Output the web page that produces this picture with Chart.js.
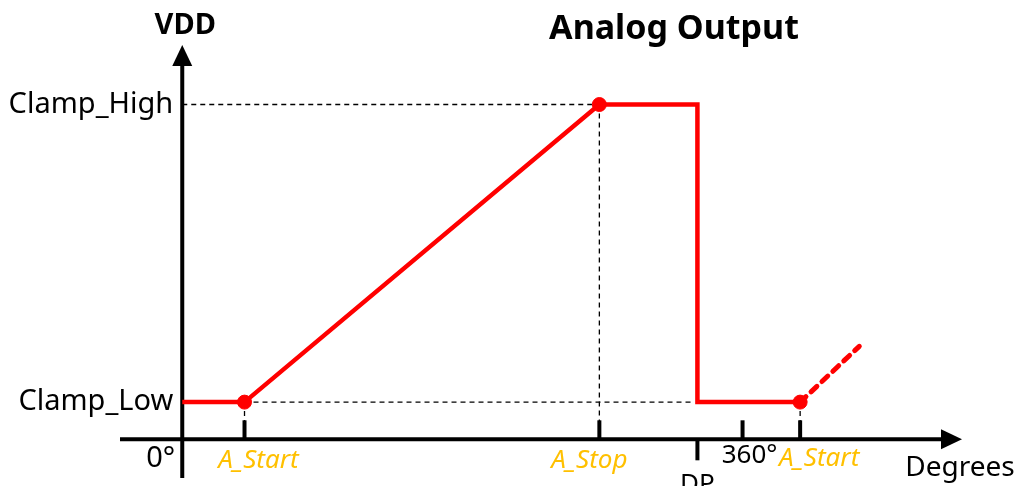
<!DOCTYPE html>
<html>
<head>
<meta charset="utf-8">
<script src="https://cdn.jsdelivr.net/npm/chart.js@4"></script>
<style>
  html, body { margin: 0; padding: 0; background: #fff; }
  canvas { display: block; }
</style>
</head>
<body>
<canvas id="chart" width="1022" height="486"></canvas>
<script>
// values (x in degrees, y in volts-ish units)
const clampLow = 0.5;
const clampHigh = 4.5;
const outputX = [0, 40, 268, 331, 331, 397];
const outputY = [clampLow, clampLow, clampHigh, clampHigh, clampLow, clampLow];
const nextX = [397, 435];
const nextY = [clampLow, 1.25];
const markerX = [40, 268, 397];
const markerY = [clampLow, clampHigh, clampLow];

const xTicks = [40, 268, 331, 360, 397];
const xTickLabels = ["A_Start", "A_Stop", "DP", "360°", "A_Start"];
const yTicks = [clampLow, clampHigh];
const yTickLabels = ["Clamp_Low", "Clamp_High"];

const FONT = "'Noto Sans', 'Open Sans', sans-serif";
const RED = "#ff0000";
const ORANGE = "#ffc000";

// how each x tick is drawn: above/below the axis, label colour and offset
const xTickStyle = [
  { up: true, color: ORANGE, italic: true, dx: 14, y: 461 },
  { up: true, color: ORANGE, italic: true, dx: -10, y: 461 },
  { up: false, color: "#000", italic: false, dx: 0, y: 485 },
  { up: true, color: "#000", italic: false, dx: 7, y: 456 },
  { up: true, color: ORANGE, italic: true, dx: 19, y: 459 }
];

function pts(xs, ys) {
  return xs.map((x, i) => ({ x: x, y: ys[i] }));
}

function guide(data) {
  return {
    data: data,
    showLine: true,
    borderColor: "#000",
    borderWidth: 1.3,
    borderDash: [5, 4],
    pointRadius: 0,
    order: 5
  };
}

const axesPlugin = {
  id: "axes",
  beforeDatasetsDraw(chart) {
    const ctx = chart.ctx;
    const x = chart.scales.x;
    const y = chart.scales.y;
    const area = chart.chartArea;
    const x0 = x.getPixelForValue(0);
    const y0 = y.getPixelForValue(0);

    ctx.save();
    ctx.strokeStyle = "#000";
    ctx.fillStyle = "#000";
    ctx.lineWidth = 4;

    // y axis with arrow
    ctx.beginPath();
    ctx.moveTo(x0, area.bottom);
    ctx.lineTo(x0, area.top + 16);
    ctx.stroke();
    ctx.beginPath();
    ctx.moveTo(x0, area.top);
    ctx.lineTo(x0 - 10, area.top + 21);
    ctx.lineTo(x0 + 10, area.top + 21);
    ctx.closePath();
    ctx.fill();

    // x axis with arrow
    ctx.beginPath();
    ctx.moveTo(area.left, y0);
    ctx.lineTo(area.right - 16, y0);
    ctx.stroke();
    ctx.beginPath();
    ctx.moveTo(area.right, y0);
    ctx.lineTo(area.right - 21, y0 - 10);
    ctx.lineTo(area.right - 21, y0 + 10);
    ctx.closePath();
    ctx.fill();

    // x ticks and labels
    xTicks.forEach((v, i) => {
      const s = xTickStyle[i];
      const px = x.getPixelForValue(v);
      ctx.lineWidth = 4;
      ctx.beginPath();
      if (s.up) {
        ctx.moveTo(px, y0 - 19);
        ctx.lineTo(px, y0);
      } else {
        ctx.moveTo(px, y0);
        ctx.lineTo(px, y0 + 21);
      }
      ctx.stroke();
      ctx.font = (s.italic ? "italic " : "") + "26px " + FONT;
      ctx.fillStyle = s.color;
      ctx.textAlign = "center";
      ctx.textBaseline = "middle";
      ctx.fillText(xTickLabels[i], px + s.dx, s.y);
    });

    // y tick labels
    ctx.fillStyle = "#000";
    ctx.font = "29px " + FONT;
    ctx.textAlign = "right";
    ctx.textBaseline = "middle";
    yTicks.forEach((v, i) => {
      ctx.fillText(yTickLabels[i], x0 - 9, y.getPixelForValue(v));
    });
    ctx.fillText("0°", x0 - 7, 459);

    // axis titles and chart title
    ctx.textAlign = "center";
    ctx.font = "bold 29px " + FONT;
    ctx.fillText("VDD", x0 + 3, 26);
    ctx.font = "28px " + FONT;
    ctx.fillText("Degrees", 960, 468);
    ctx.font = "bold 34px " + FONT;
    ctx.fillText("Analog Output", 674, 29);
    ctx.restore();
  }
};

new Chart(document.getElementById("chart"), {
  type: "scatter",
  data: {
    datasets: [
      {
        data: pts(outputX, outputY),
        showLine: true,
        borderColor: RED,
        borderWidth: 4.5,
        pointRadius: 0,
        order: 2
      },
      {
        data: pts(nextX, nextY),
        showLine: true,
        borderColor: RED,
        borderWidth: 5,
        borderDash: [8, 7],
        borderCapStyle: "round",
        pointRadius: 0,
        order: 2
      },
      {
        data: pts(markerX, markerY),
        showLine: false,
        pointRadius: 7,
        pointBackgroundColor: RED,
        pointBorderColor: RED,
        order: 1
      },
      guide([{ x: 0, y: clampHigh }, { x: 268, y: clampHigh }]),
      guide([{ x: 268, y: clampHigh }, { x: 268, y: 0.24 }]),
      guide([{ x: 40, y: clampLow }, { x: 328, y: clampLow }]),
      guide([{ x: 40, y: clampLow }, { x: 40, y: 0.24 }]),
      guide([{ x: 397, y: clampLow }, { x: 397, y: 0.24 }])
    ]
  },
  options: {
    responsive: false,
    animation: false,
    events: [],
    layout: { padding: { left: 120, right: 60, top: 45, bottom: 6 } },
    scales: {
      x: { type: "linear", min: -40, max: 501, display: false },
      y: { type: "linear", min: -0.52, max: 5.3, display: false }
    },
    plugins: {
      legend: { display: false },
      tooltip: { enabled: false },
      title: { display: false }
    }
  },
  plugins: [axesPlugin]
});
</script>
</body>
</html>
